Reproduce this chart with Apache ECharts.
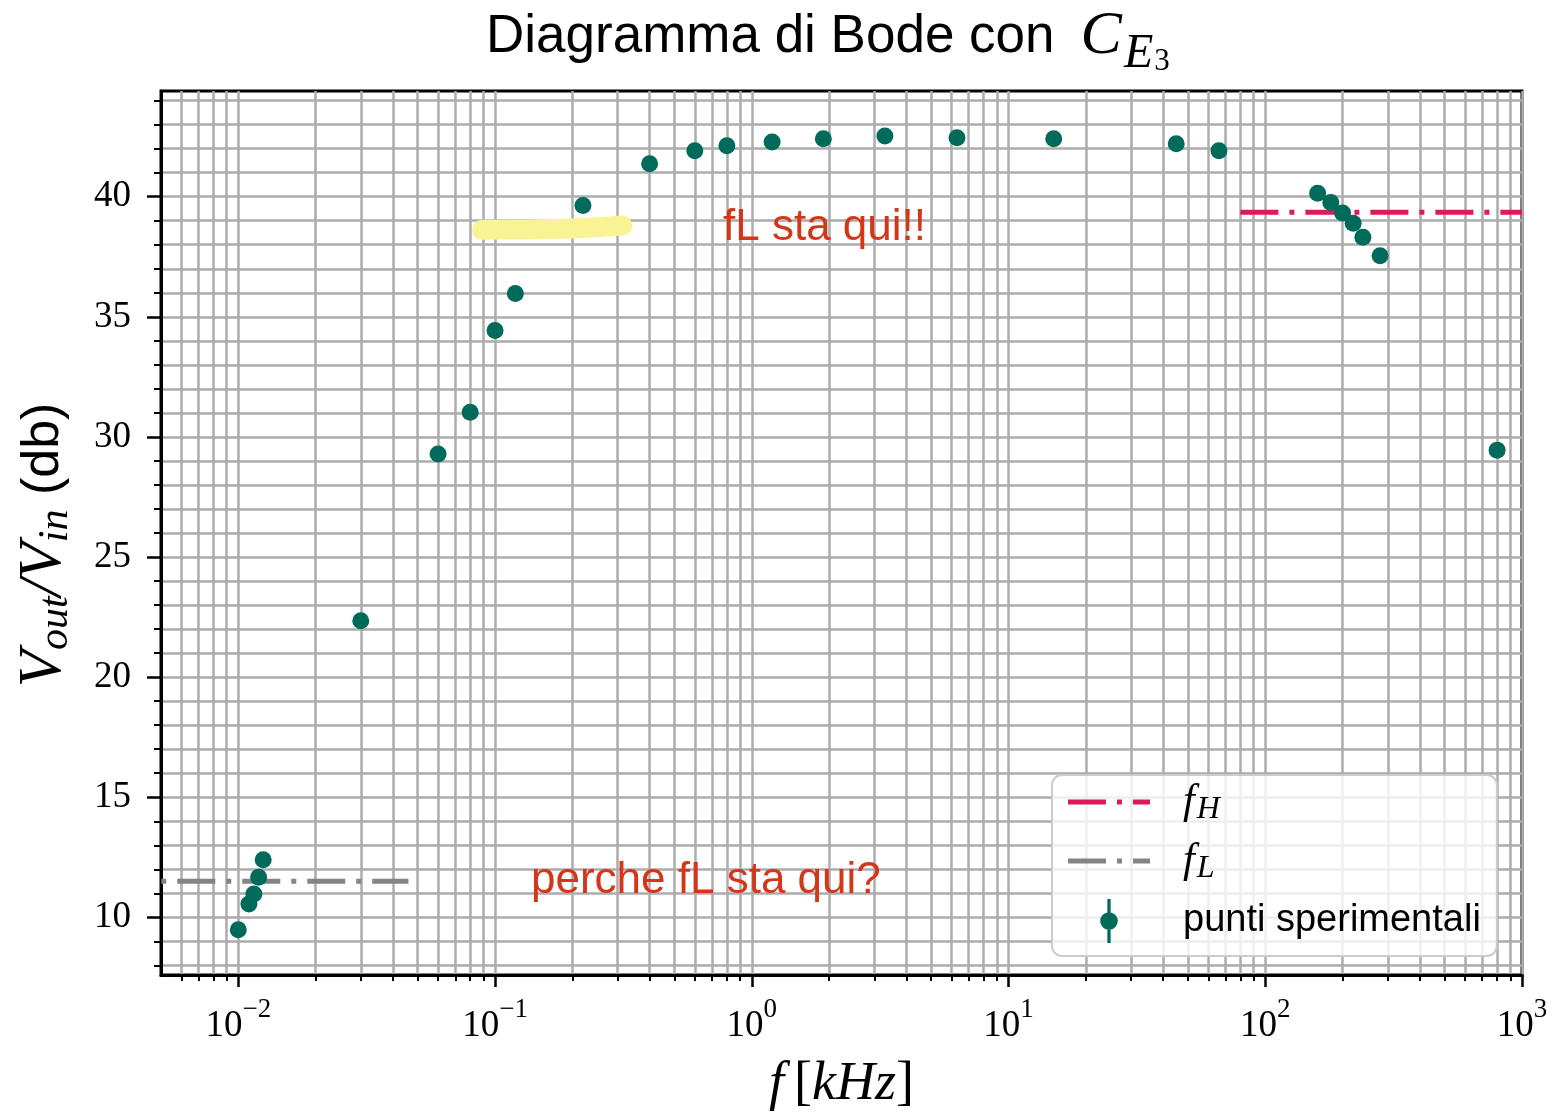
<!DOCTYPE html>
<html><head><meta charset="utf-8">
<script src="https://cdn.jsdelivr.net/npm/echarts@6/dist/echarts.min.js"></script>
<style>html,body{margin:0;padding:0;background:#fff}#c{width:1556px;height:1112px}</style>
</head><body><div id="c"></div>
<script>
// ---- data ----
const freq = [0.01, 0.011, 0.0115, 0.012, 0.0125, 0.03, 0.06, 0.08, 0.1, 0.12, 0.22, 0.4, 0.6, 0.8, 1.2, 1.9, 3.3, 6.3, 15, 45, 66, 160, 180, 200, 220, 240, 280, 800];
const gain = [9.48, 10.56, 10.97, 11.67, 12.4, 22.35, 29.29, 31.03, 34.43, 35.97, 39.63, 41.37, 41.91, 42.12, 42.28, 42.41, 42.53, 42.45, 42.41, 42.2, 41.91, 40.14, 39.76, 39.32, 38.89, 38.31, 37.54, 29.45];
const fHSpan = [80, 1000];
const fHLevel = 39.35;
const fLSpan = [0.00323, 0.046];
const fLLevel = 11.5;
const highlightF = [0.089, 0.2, 0.313];
const highlightV = [38.62, 38.68, 38.8];
const xMajorTicks = [0.01, 0.1, 1, 10, 100, 1000];
const xMinorTicks = [0.006, 0.007, 0.008, 0.009,
  0.02, 0.03, 0.04, 0.05, 0.06, 0.07, 0.08, 0.09,
  0.2, 0.3, 0.4, 0.5, 0.6, 0.7, 0.8, 0.9,
  2, 3, 4, 5, 6, 7, 8, 9,
  20, 30, 40, 50, 60, 70, 80, 90,
  200, 300, 400, 500, 600, 700, 800, 900];
const yMajorTicks = [10, 15, 20, 25, 30, 35, 40];

const SERIF = '"Liberation Serif", "DejaVu Serif", serif';
const SANS = '"Liberation Sans", Arial, sans-serif';
const GRID = '#acacac';
const GW = 2.5;
const DASHDOT_ICON = 'path://M0,0H38V5H0Z M49,0H54V5H49Z M65,0H82V5H65Z';

const chart = echarts.init(document.getElementById('c'), null, {renderer: 'canvas'});
const supText = e => (e < 0 ? '\u2212' + (-e) : String(e));

const option = {
  backgroundColor: '#ffffff',
  animation: false,
  title: {
    text: '{a|Diagramma di Bode con}{c|C}{e|E}{n|3}',
    left: 481, top: -9,
    textStyle: {
      fontWeight: 'normal',
      rich: {
        a: {fontFamily: SANS, fontWeight: 'normal', fontSize: 53, color: '#000'},
        c: {fontFamily: SERIF, fontWeight: 'normal', fontStyle: 'italic', fontSize: 62, color: '#000', padding: [0, 2, 0, 26]},
        e: {fontFamily: SERIF, fontWeight: 'normal', fontStyle: 'italic', fontSize: 48, color: '#000', padding: [34, 1, 0, 0]},
        n: {fontFamily: SERIF, fontWeight: 'normal', fontSize: 31, color: '#000', padding: [50, 0, 0, 0]}
      }
    }
  },
  grid: {left: 161, right: 34, top: 91, bottom: 137, outerBoundsMode: 'none', containLabel: false,
    show: true, borderColor: '#000', borderWidth: 3, backgroundColor: '#fff'},
  legend: {
    orient: 'vertical', left: 1052, top: 775,
    padding: [6, 16, 13, 16], itemGap: 14, itemWidth: 82, itemHeight: 44,
    backgroundColor: 'rgba(255,255,255,0.8)', borderColor: '#cccccc', borderWidth: 2, borderRadius: 10,
    selectedMode: false,
    data: [{name: 'fH', icon: DASHDOT_ICON}, {name: 'fL', icon: DASHDOT_ICON},
      {name: 'punti sperimentali', icon: 'path://M-1.5,0 H1.5 V40 H-1.5 Z M0,12 A8,8 0 1 1 -0.01,12 Z'}],
    formatter: n => n === 'fH' ? '{i|f}{sub|H}' : (n === 'fL' ? '{i|f}{sub|L}' : '{t|punti sperimentali}'),
    textStyle: {
      padding: [0, 0, 0, 28],
      rich: {
        i: {fontFamily: SERIF, fontStyle: 'italic', fontSize: 42, color: '#000'},
        sub: {fontFamily: SERIF, fontStyle: 'italic', fontSize: 32, color: '#000', padding: [16, 0, 0, 2]},
        t: {fontFamily: SANS, fontSize: 38, color: '#000'}
      }
    }
  },
  xAxis: [{
    type: 'log', logBase: 10, min: 0.005, max: 1000, position: 'bottom',
    name: '{f|f}{b|[}{k|kHz}{b|]}', nameLocation: 'middle', nameGap: 83,
    nameTextStyle: {rich: {
      f: {fontFamily: SERIF, fontStyle: 'italic', fontSize: 54, color: '#000', padding: [0, 10, 0, 0]},
      b: {fontFamily: SERIF, fontSize: 54, color: '#000'},
      k: {fontFamily: SERIF, fontStyle: 'italic', fontSize: 54, color: '#000'}
    }},
    axisLine: {show: true, lineStyle: {color: '#000', width: 3}},
    axisTick: {show: true, length: 12, customValues: xMajorTicks, lineStyle: {color: '#000', width: 2.5}},
    axisLabel: {
      show: true, margin: 21, customValues: xMajorTicks,
      formatter: v => '{b|10}{s|' + supText(Math.round(Math.log10(v))) + '}',
      rich: {
        b: {fontFamily: SERIF, fontSize: 37, color: '#000'},
        s: {fontFamily: SERIF, fontSize: 27, color: '#000', padding: [0, 0, 34, 0]}
      }
    },
    splitLine: {show: true, lineStyle: {color: GRID, width: GW}}
  }, {
    type: 'log', logBase: 10, min: 0.005, max: 1000, position: 'bottom',
    axisLine: {show: false},
    axisLabel: {show: false},
    axisTick: {show: true, length: 6, customValues: xMinorTicks, lineStyle: {color: '#000', width: 2}},
    splitLine: {show: true, lineStyle: {color: GRID, width: GW}}
  }],
  yAxis: {
    type: 'value', min: 7.6, max: 44.4, splitNumber: 7,
    name: '{v|V}{s|out}{v|/V}{s|in}{d| (db)}', nameLocation: 'middle', nameRotate: 90, nameGap: 84,
    nameTextStyle: {padding: [0, 24, 0, 0], rich: {
      v: {fontFamily: SERIF, fontStyle: 'italic', fontSize: 61, color: '#000'},
      s: {fontFamily: SERIF, fontStyle: 'italic', fontSize: 42, color: '#000', padding: [24, 0, 0, 0]},
      d: {fontFamily: SANS, fontSize: 52, color: '#000'}
    }},
    axisLine: {show: true, lineStyle: {color: '#000', width: 3}},
    axisTick: {show: true, length: 14, customValues: yMajorTicks, lineStyle: {color: '#000', width: 2.5}},
    minorTick: {show: true, splitNumber: 5, length: 7, lineStyle: {color: '#000', width: 2}},
    axisLabel: {show: true, margin: 30, customValues: yMajorTicks, fontFamily: SERIF, fontSize: 37, color: '#000'},
    splitLine: {show: true, lineStyle: {color: GRID, width: GW}},
    minorSplitLine: {show: true, lineStyle: {color: GRID, width: GW}}
  },
  graphic: [
    {type: 'text', left: 723, top: 206, z: 50, style: {text: 'fL sta qui!!', font: '44px "Liberation Sans", Arial, sans-serif', fill: '#d4361a'}},
    {type: 'text', left: 531, top: 859, z: 50, style: {text: 'perche fL sta qui?', font: '44px "Liberation Sans", Arial, sans-serif', fill: '#d4361a'}}
  ],
  series: [
    {
      name: 'highlight', type: 'line', silent: true, smooth: true, symbol: 'none', z: 3,
      data: highlightF.map((f, i) => [f, highlightV[i]]),
      lineStyle: {color: '#f9f396', width: 20, cap: 'round'}
    },
    {
      name: 'fH', type: 'line', symbol: 'none', z: 4, symbolKeepAspect: true,
      data: fHSpan.map(f => [f, fHLevel]),
      lineStyle: {color: '#dc1a5c', width: 5, type: [38, 11, 5, 11]},
      itemStyle: {color: '#dc1a5c'}
    },
    {
      name: 'fL', type: 'line', symbol: 'none', z: 4, symbolKeepAspect: true,
      data: fLSpan.map(f => [f, fLLevel]),
      lineStyle: {color: '#848484', width: 5, type: [38, 11, 5, 11]},
      itemStyle: {color: '#848484'}
    },
    {
      name: 'punti sperimentali', type: 'scatter', symbolSize: 17, z: 5, symbolKeepAspect: true,
      data: freq.map((f, i) => [f, gain[i]]),
      itemStyle: {color: '#016b5b', opacity: 1}
    }
  ]
};
chart.setOption(option);
</script></body></html>
